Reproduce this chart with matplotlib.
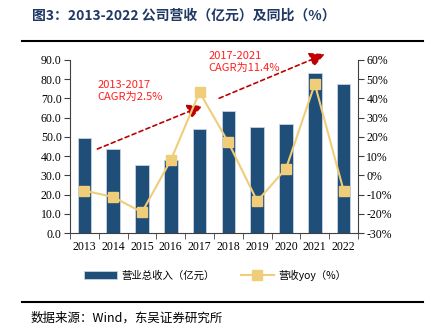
import matplotlib.pyplot as plt
import numpy as np

years = ["2013", "2014", "2015", "2016", "2017", "2018", "2019", "2020", "2021", "2022"]
revenue = [49.4, 43.5, 35.5, 38.0, 54.3, 63.6, 55.0, 56.9, 83.1, 77.4]
yoy = [-7.9, -11.3, -19.2, 7.9, 43.3, 17.1, -13.4, 3.5, 47.5, -7.9]
left_ticks = np.arange(0, 91, 10)
right_ticks = np.arange(-30, 61, 10)

bar_col = "#1F4E79"
line_col = "#F0CD78"
navy = "#1F3864"
serif = ["Liberation Serif", "Noto Sans CJK SC"]
cjk = ["Noto Sans CJK SC", "DejaVu Sans"]

plt.rcParams["font.family"] = cjk

fig = plt.figure(figsize=(4.39, 3.32), dpi=100)
ax = fig.add_axes([70 / 439, 1 - 233 / 332, 288 / 439, 173 / 332])
ax2 = ax.twinx()

x = np.arange(len(years))
bars = ax.bar(x, revenue, width=0.47, color=bar_col, edgecolor="#c8d3e3", linewidth=0.6,
              label="营业总收入（亿元）", zorder=2)
ln, = ax2.plot(x, yoy, color=line_col, lw=1.5, marker="s", markersize=7.5,
               markerfacecolor=line_col, markeredgecolor=line_col, label="营收yoy（%）", zorder=3)

ax.set_xlim(-0.5, len(years) - 0.5)
ax.set_ylim(0, 90)
ax2.set_ylim(-30, 60)
ax.set_yticks(left_ticks)
ax.set_yticklabels(["%.1f" % v for v in left_ticks], family=serif, fontsize=8.5)
ax2.set_yticks(right_ticks)
ax2.set_yticklabels(["%d%%" % v for v in right_ticks], family=serif, fontsize=8.5)
ax.set_xticks(x)
ax.set_xticklabels(years, family=serif, fontsize=8.5)
ax.set_xticks(np.arange(-0.5, len(years), 1), minor=True)
ax.tick_params(axis="x", which="major", length=0, pad=6)
ax.tick_params(axis="x", which="minor", length=4, direction="out", color="#404040")
ax.tick_params(axis="y", length=4, color="#404040", pad=2)
ax2.tick_params(axis="y", length=4, color="#404040", pad=2)

for a in (ax, ax2):
    a.spines["top"].set_visible(False)
    for s in ("left", "right", "bottom"):
        a.spines[s].set_color("#404040")
ax.spines["right"].set_visible(False)
ax2.spines["left"].set_visible(False)
ax2.spines["bottom"].set_visible(False)

# CAGR arrows (left-axis data coords)
arrow = dict(arrowstyle="-|>,head_length=0.9,head_width=0.45", color="#C00000",
             linestyle=(0, (2.5, 2)), lw=1.2, shrinkA=0, shrinkB=0)
ax.annotate("", xy=(4.1, 66.1), xytext=(0.45, 43.7), arrowprops=arrow, annotation_clip=False)
ax.annotate("", xy=(8.35, 93.1), xytext=(4.68, 70.1), arrowprops=arrow, annotation_clip=False)
ax.text(0.45, 74, "2013-2017\nCAGR为2.5%", color="#FF2020", fontsize=8, linespacing=1.3,
        va="center", ha="left")
ax.text(4.3, 89, "2017-2021\nCAGR为11.4%", color="#FF2020", fontsize=8, linespacing=1.3,
        va="center", ha="left")

fig.legend([bars, ln], ["营业总收入（亿元）", "营收yoy（%）"], loc="center",
           bbox_to_anchor=(0.49, 1 - 275 / 332), ncol=2, frameon=False, fontsize=7.5,
           handlelength=3.2, columnspacing=2.5, handletextpad=0.4)

# title, rules and source
fig.text(32 / 439, 1 - 16 / 332, "图3：2013-2022 公司营收（亿元）及同比（%）", color=navy,
         fontsize=10, fontweight="bold", va="center", ha="left")
fig.add_artist(plt.Line2D([22 / 439, 423 / 439], [1 - 41 / 332] * 2, color="black", lw=1.5))
fig.add_artist(plt.Line2D([22 / 439, 423 / 439], [1 - 302 / 332] * 2, color="black", lw=1.5))
fig.text(31 / 439, 1 - 318 / 332, "数据来源：Wind，东吴证券研究所", color="black",
         fontsize=9, va="center", ha="left")

fig.savefig("out.png", dpi=100)
